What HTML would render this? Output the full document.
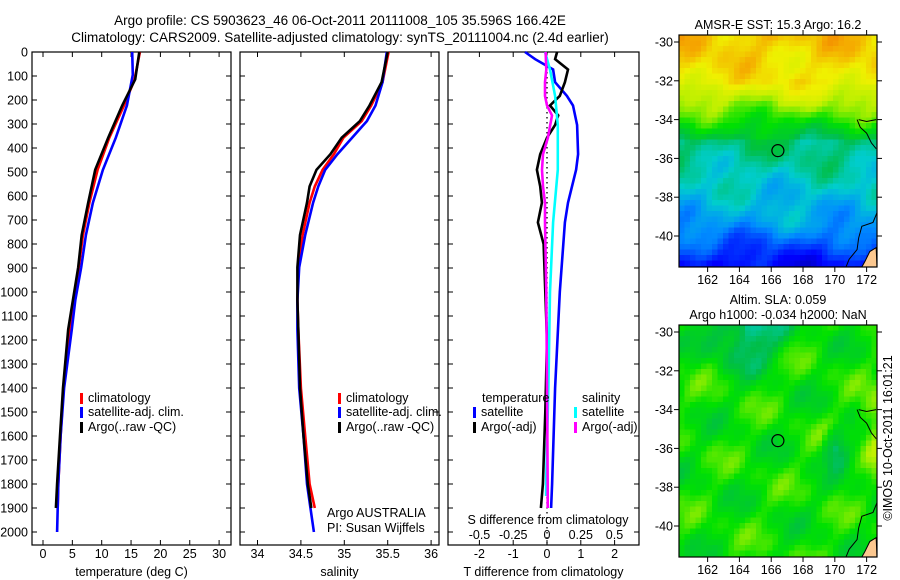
<!DOCTYPE html>
<html><head><meta charset="utf-8">
<style>
html,body{margin:0;padding:0;background:#fff;}
svg{display:block;font-family:"Liberation Sans",sans-serif;font-size:12.5px;}
</style></head>
<body>
<svg id="chart" width="900" height="580" viewBox="0 0 900 580" xmlns="http://www.w3.org/2000/svg">
<text x="340" y="25" text-anchor="middle" font-size="13.5">Argo profile: CS 5903623_46 06-Oct-2011 20111008_105 35.596S 166.42E</text>
<text x="340" y="42" text-anchor="middle" font-size="13.5">Climatology: CARS2009. Satellite-adjusted climatology: synTS_20111004.nc (2.4d earlier)</text>
<g id="plots"></g>
<g id="maps"></g>
</svg>
<script>
// ---------- data ----------
const depthT = [0,114,223,357,491,628,763,897,1034,1156,1400,1600,1800,1900];
const tempArgo = [16.4,15.7,13.5,11.1,8.9,7.7,6.6,6.0,5.1,4.3,3.4,2.9,2.4,2.2];
const tempClim = [16.5,15.6,13.8,11.3,9.3,7.9,6.8,6.1,5.3,4.5,3.5,3.0,2.6,2.5];
const depthTsat = [0,95,223,357,491,628,763,897,1034,1156,1400,1600,1800,2000];
const tempSat = [15.2,15.3,14.3,12.4,10.2,8.5,7.3,6.5,5.5,4.9,3.6,3.0,2.6,2.4];
const depthS = [0,126,223,288,357,426,491,560,628,763,897,1034,1156,1400,1600,1800,1900];
const salArgo = [35.50,35.43,35.29,35.18,34.97,34.84,34.68,34.60,34.57,34.49,34.46,34.46,34.47,34.49,34.53,34.58,34.62];
const salClim = [35.51,35.44,35.31,35.20,34.99,34.88,34.75,34.66,34.60,34.52,34.47,34.46,34.47,34.50,34.55,34.60,34.66];
const depthSsat = [0,126,223,288,357,426,491,560,628,763,897,1034,1156,1400,1600,1800,2000];
const salSat = [35.49,35.44,35.36,35.26,35.09,34.92,34.78,34.70,34.64,34.55,34.48,34.46,34.46,34.48,34.53,34.57,34.65];
const depthDT = [0,30,73,126,183,223,264,304,357,426,491,560,628,710,800,1000,1200,1500,1800,1900];
const dTargo = [0.30,0.24,0.62,0.53,0.38,0.09,0.33,0.24,0.0,-0.20,-0.30,-0.20,-0.15,-0.27,-0.10,-0.05,0.0,-0.05,-0.12,-0.18];
const depthDTs = [0,30,73,126,183,223,304,426,491,560,628,710,1000,1400,1800,1900];
const dTsat = [-0.65,-0.35,0.18,0.24,0.59,0.77,0.89,0.92,0.86,0.74,0.62,0.53,0.38,0.24,0.15,0.12];
const depthDS = [0,73,126,183,223,264,357,426,491,560,628,710,1000,1400,1800,1900];
const dSargo = [-0.01,-0.005,-0.015,-0.015,0.0,0.037,0.007,-0.03,-0.037,-0.03,-0.015,-0.015,-0.005,0.0,0.005,0.005];
const depthDSs = [0,73,183,304,491,710,1000,1400,1800,1850];
const dSsat = [-0.015,0.022,0.06,0.08,0.08,0.045,0.022,0.01,-0.007,-0.007];
const depthTicks = [0,100,200,300,400,500,600,700,800,900,1000,1100,1200,1300,1400,1500,1600,1700,1800,1900,2000];
const tempTicks = [0,5,10,15,20,25,30];
const salTicks = [34,34.5,35,35.5,36];
const salTickLabels = ["34","34.5","35","35.5","36"];
const dTTicks = [-2,-1,0,1,2];
const dSTicks = [-0.5,-0.25,0,0.25,0.5];
const dSTickLabels = ["-0.5","-0.25","0","0.25","0.5"];
const lonTicks = [162,164,166,168,170,172];
const latTicks = [-30,-32,-34,-36,-38,-40];

const NS="http://www.w3.org/2000/svg";
function mk(parent,tag,attrs,text){const e=document.createElementNS(NS,tag);for(const k in attrs)e.setAttribute(k,attrs[k]);if(text!==undefined)e.textContent=text;parent.appendChild(e);return e;}
const plots=document.getElementById('plots');
const top0=52, bot=545;
const yD = d => 52 + d*0.24;

function panel(name,x0,x1,xs,ticks,labels,title){
  const g=mk(plots,'g',{});
  
  
  const fr=mk(g,'rect',{x:x0,y:top0,width:x1-x0,height:bot-top0,fill:'none',stroke:'#000','stroke-width':1.2});
  
  
  depthTicks.forEach(d=>{
    mk(g,'line',{x1:x0,x2:x0+5,y1:yD(d),y2:yD(d),stroke:'#000'});
    mk(g,'line',{x1:x1-5,x2:x1,y1:yD(d),y2:yD(d),stroke:'#000'});
  });
  if(ticks){ticks.forEach((t,i)=>{
    const x=xs(t);
    mk(g,'line',{x1:x,x2:x,y1:top0,y2:top0+5,stroke:'#000'});
    mk(g,'line',{x1:x,x2:x,y1:bot-5,y2:bot,stroke:'#000'});
    const tl=mk(g,'text',{x:x,y:558,'text-anchor':'middle'},labels?labels[i]:String(t));
    
    
  });}
  if(title){const tt=mk(g,'text',{x:(x0+x1)/2,y:576,'text-anchor':'middle'},title);
    
    }
  return g;
}
function line(g,xs,vals,depths,color,name,w){
  const pts=vals.map((v,i)=>xs(v).toFixed(1)+','+yD(depths[i]).toFixed(1)).join(' ');
  const p=mk(g,'polyline',{points:pts,fill:'none',stroke:color,'stroke-width':w||2.6});
  
  
}
function legend(g,x,y,color,label,name){
  const r=mk(g,'rect',{x:x,y:y-9,width:3,height:11,fill:color});
  
  
  const t=mk(g,'text',{x:x+8,y:y},label);
  
  
}

depthTicks.forEach(d=>{
  const t=mk(plots,'text',{x:28,y:yD(d)+4.5,'text-anchor':'end'},String(d));
  
  
});

// panel 1
const xT = t => 43 + t*5.87;
const g1=panel('temperature-panel',32,231,xT,tempTicks,null,'temperature (deg C)');
line(g1,xT,tempClim,depthT,'#f00','temp-climatology-line');
line(g1,xT,tempSat,depthTsat,'#00f','temp-satellite-line');
line(g1,xT,tempArgo,depthT,'#000','temp-argo-line');
legend(g1,80,402,'#f00','climatology','legend-climatology');
legend(g1,80,416,'#00f','satellite-adj. clim.','legend-satellite');
legend(g1,80,431,'#000','Argo(..raw -QC)','legend-argo');

// panel 2
const xS = s => 257.5 + (s-34)*86.8;
const g2=panel('salinity-panel',240,439,xS,salTicks,salTickLabels,'salinity');
line(g2,xS,salClim,depthS,'#f00','sal-climatology-line');
line(g2,xS,salSat,depthSsat,'#00f','sal-satellite-line');
line(g2,xS,salArgo,depthS,'#000','sal-argo-line');
legend(g2,338,402,'#f00','climatology','legend-climatology');
legend(g2,338,416,'#00f','satellite-adj. clim.','legend-satellite');
legend(g2,338,431,'#000','Argo(..raw -QC)','legend-argo');
let t=mk(g2,'text',{x:327,y:517},'Argo AUSTRALIA');
t=mk(g2,'text',{x:327,y:532},'PI: Susan Wijffels');

// panel 3
const xdT = v => 547 + v*33.8;
const xdS = v => 547 + v*135;
const g3=panel('difference-panel',448,639,xdT,dTTicks,null,'T difference from climatology');
mk(g3,'line',{x1:547,x2:547,y1:top0,y2:bot,stroke:'#000','stroke-dasharray':'1.5,3.5','stroke-width':1.3});
line(g3,xdT,dTsat,depthDTs,'#00f','dT-satellite-line');
line(g3,xdT,dTargo,depthDT,'#000','dT-argo-line');
line(g3,xdS,dSsat,depthDSs,'#0ff','dS-satellite-line');
line(g3,xdS,dSargo,depthDS,'#f0f','dS-argo-line');
dSTicks.forEach((v,i)=>{const tt=mk(g3,'text',{x:xdS(v),y:539,'text-anchor':'middle'},dSTickLabels[i]);
  });
t=mk(g3,'text',{x:548,y:524,'text-anchor':'middle'},'S difference from climatology');

t=mk(g3,'text',{x:482,y:402},'temperature');
t=mk(g3,'text',{x:582,y:402},'salinity');
legend(g3,473,416,'#00f','satellite','legend-t-satellite');
legend(g3,473,431,'#000','Argo(-adj)','legend-t-argo');
legend(g3,574,416,'#0ff','satellite','legend-s-satellite');
legend(g3,574,431,'#f0f','Argo(-adj)','legend-s-argo');

// ---------- maps ----------
const maps=document.getElementById('maps');
const stops=[[0,[0,0,140]],[0.15,[0,0,255]],[0.3,[0,140,255]],[0.4,[0,205,205]],[0.5,[0,190,70]],[0.6,[0,225,0]],[0.72,[190,240,0]],[0.82,[240,240,0]],[0.92,[245,165,0]],[1,[240,100,0]]];
function cmap(v){v=Math.max(0,Math.min(1,v));for(let i=1;i<stops.length;i++){if(v<=stops[i][0]){const a=stops[i-1],b=stops[i];const f=(v-a[0])/(b[0]-a[0]);return 'rgb('+a[1].map((c,k)=>Math.round(c+(b[1][k]-c)*f)).join(',')+')';}}return 'rgb(240,100,0)';}
function nz(i,j,s){return Math.sin(i*0.45+j*0.31+s)*0.5+Math.sin(i*0.23-j*0.52+s*2)*0.5+Math.sin(i*1.1+j*0.8+s*3)*0.25;}
function drawMap(name,y0,fn,titles){
  const g=mk(maps,'g',{});
  
  
  const x0=679,x1=877,y1=y0+232,c=5.5;
  const cells=mk(g,'g',{});
  for(let i=0;i*c<x1-x0;i++)for(let j=0;j*c<y1-y0;j++){
    mk(cells,'rect',{x:x0+i*c,y:y0+j*c,width:Math.min(c+0.3,x1-x0-i*c),height:Math.min(c+0.3,y1-y0-j*c),fill:cmap(fn(i,j,(j*c)/(y1-y0)))});
  }
  const lat=v=>y0+7+(-30-v)*19.4, lon=v=>679+(v-160.2)*15.9;
  const land=mk(g,'path',{d:`M${lon(172.6)},${lat(-40.6)} L${lon(172.2)},${lat(-40.8)} L${lon(171.9)},${lat(-41.3)} L${lon(171.7)},${lat(-41.6)} L${x1},${y1} Z`,fill:'#fcc890',stroke:'#000','stroke-width':1});
  
  mk(g,'path',{d:`M${lon(171.4)},${lat(-34)} L${lon(171.6)},${lat(-34.4)} L${lon(172)},${lat(-34.7)} L${lon(172.3)},${lat(-35.2)} L${lon(172.6)},${lat(-35.5)} M${lon(171.5)},${lat(-34)} L${lon(172)},${lat(-34.1)} L${lon(172.6)},${lat(-34)} M${x1},${lat(-38.8)} L${lon(172.4)},${lat(-39.3)} L${lon(171.7)},${lat(-39.5)} L${lon(171.5)},${lat(-40.1)} L${lon(171.4)},${lat(-40.7)} L${lon(170.9)},${lat(-41.2)} L${lon(170.7)},${lat(-41.6)}`,fill:'none',stroke:'#000','stroke-width':1});
  const cir=mk(g,'circle',{cx:lon(166.42),cy:lat(-35.6),r:6,fill:'none',stroke:'#000','stroke-width':1.2});
  
  const fr=mk(g,'rect',{x:x0,y:y0,width:x1-x0,height:y1-y0,fill:'none',stroke:'#000','stroke-width':1.2});
  
  lonTicks.forEach(v=>{const x=lon(v);mk(g,'line',{x1:x,x2:x,y1:y0-5,y2:y0,stroke:'#000'});mk(g,'line',{x1:x,x2:x,y1:y1,y2:y1+5,stroke:'#000'});
    const tt=mk(g,'text',{x:x,y:y1+17,'text-anchor':'middle'},String(v));});
  latTicks.forEach(v=>{const y=lat(v);mk(g,'line',{x1:x0-5,x2:x0,y1:y,y2:y,stroke:'#000'});mk(g,'line',{x1:x1,x2:x1+5,y1:y,y2:y,stroke:'#000'});
    const tt=mk(g,'text',{x:673,y:y+4.5,'text-anchor':'end'},String(v));});
  titles.forEach((s,k)=>{const tt=mk(g,'text',{x:778,y:y0-(titles.length-k)*15+9,'text-anchor':'middle'},s);});
}
drawMap('sst-map',35,(i,j,f)=>{
  const base=f<0.18?0.88-f*0.3:f<0.45?0.84-(f-0.18)*1.3:f<0.8?0.47-(f-0.45)*0.4:0.33-(f-0.8)*1.0;
  return base+0.06*nz(i,j,1);
},['AMSR-E SST: 15.3 Argo: 16.2']);
drawMap('sla-map',325,(i,j,f)=>{
  let v=0.6+0.07*nz(i,j,3);
  const d=Math.hypot(i-12,j);
  if(d<10)v-=0.2*(1-d/10);
  const d2=Math.hypot((i-28)*1.5,j-22);
  if(d2<5)v-=0.15*(1-d2/5);
  const d3=Math.hypot(i-36,(j-18)*0.5);
  if(d3<5)v+=0.15*(1-d3/5);
  return v;
},['Altim. SLA: 0.059','Argo h1000: -0.034 h2000: NaN']);
t=mk(maps,'text',{x:892,y:438,'text-anchor':'middle',transform:'rotate(-90 892 438)'},'©IMOS 10-Oct-2011 16:01:21');

</script>
</body></html>
